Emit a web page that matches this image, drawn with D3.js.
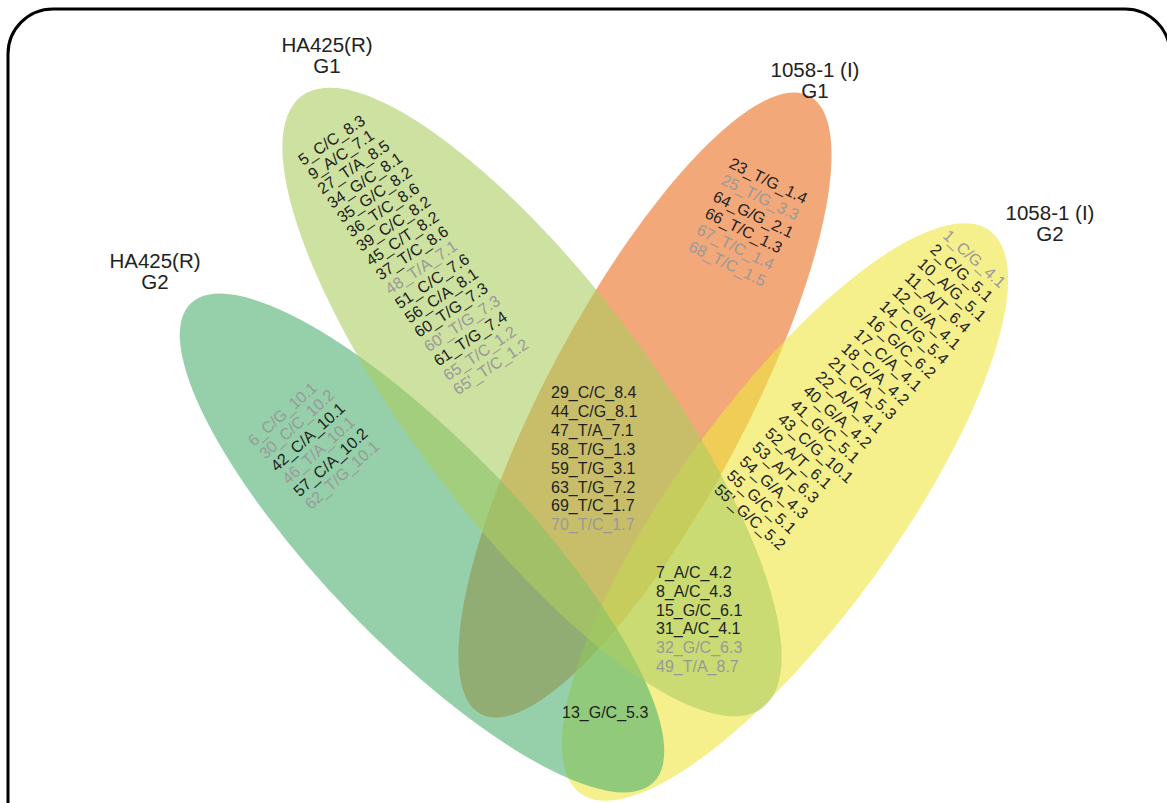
<!DOCTYPE html>
<html>
<head>
<meta charset="utf-8">
<script src="https://cdn.jsdelivr.net/npm/d3@7"></script>
<style>
  body { margin: 0; background: #fff; }
  svg { display: block; font-family: "Liberation Sans", Arial, sans-serif; }
</style>
</head>
<body>
<svg width="1167" height="803"></svg>
<script>
// set names (two lines each)
var setNames = [["HA425(R)", "G1"], ["1058-1 (I)", "G1"], ["1058-1 (I)", "G2"], ["HA425(R)", "G2"]];

// labels per region
var onlyHA_G1 = ["5_C/C_8.3", "9_A/C_7.1", "27_T/A_8.5", "34_G/C_8.1", "35_G/C_8.2", "36_T/C_8.6",
  "39_C/C_8.2", "45_C/T_8.2", "37_T/C_8.6", "48_T/A_7.1", "51_C/C_7.6", "56_C/A_8.1", "60_T/G_7.3",
  "60'_T/G_7.3", "61_T/G_7.4", "65_T/C_1.2", "65'_T/C_1.2"];
var onlyI_G1 = ["23_T/G_1.4", "25_T/G_3.3", "64_G/G_2.1", "66_T/C_1.3", "67_T/C_1.4", "68_T/C_1.5"];
var onlyI_G2 = ["1_C/G_4.1", "2_C/G_5.1", "10_A/G_5.1", "11_A/T_6.4", "12_G/A_4.1", "14_C/G_5.4",
  "16_G/C_6.2", "17_C/A_4.1", "18_C/A_4.2", "21_C/A_5.3", "22_A/A_4.1", "40_G/A_4.2", "41_G/C_5.1",
  "43_C/G_10.1", "52_A/T_6.1", "53_A/T_6.3", "54_G/A_4.3", "55_G/C_5.1", "55'_G/C_5.2"];
var onlyHA_G2 = ["6_C/G_10.1", "30_C/C_10.2", "42_C/A_10.1", "46_T/A_10.1", "57_C/A_10.2", "62_T/G_10.1"];
var G1both = ["29_C/C_8.4", "44_C/G_8.1", "47_T/A_7.1", "58_T/G_1.3", "59_T/G_3.1", "63_T/G_7.2",
  "69_T/C_1.7", "70_T/C_1.7"];
var HAG1_IG2 = ["7_A/C_4.2", "8_A/C_4.3", "15_G/C_6.1", "31_A/C_4.1", "32_G/C_6.3", "49_T/A_8.7"];
var G2both = ["13_G/C_5.3"];

// labels printed in grey
var greyLabels = ["48_T/A_7.1", "60'_T/G_7.3", "65_T/C_1.2", "65'_T/C_1.2", "25_T/G_3.3", "67_T/C_1.4",
  "68_T/C_1.5", "1_C/G_4.1", "6_C/G_10.1", "30_C/C_10.2", "46_T/A_10.1", "62_T/G_10.1", "70_T/C_1.7",
  "32_G/C_6.3", "49_T/A_8.7"];

var svg = d3.select("svg");

//==================================================
// frame
svg.append("rect")
  .attr("x", 8).attr("y", 9)
  .attr("width", 1162).attr("height", 900)
  .attr("rx", 45).attr("ry", 45)
  .attr("fill", "none").attr("stroke", "#000").attr("stroke-width", 3);

//==================================================
// ellipses (drawn order matters for the blend)
var ellipses = [
  {set: 1, cx: 645, cy: 405, rx: 350, ry: 100, angle: 118, color: "rgb(235,110,32)"},
  {set: 2, cx: 785, cy: 512, rx: 348, ry: 110, angle: 126, color: "rgb(238,230,63)"},
  {set: 3, cx: 422, cy: 543, rx: 333, ry: 100, angle: 46, color: "rgb(80,177,113)"},
  {set: 0, cx: 532, cy: 402, rx: 383, ry: 120, angle: 53, color: "rgb(172,205,97)"}
];

svg.append("g").selectAll("ellipse")
  .data(ellipses)
  .enter().append("ellipse")
  .attr("cx", 0).attr("cy", 0)
  .attr("rx", function(d) { return d.rx; })
  .attr("ry", function(d) { return d.ry; })
  .attr("transform", function(d) { return "translate(" + d.cx + "," + d.cy + ") rotate(" + d.angle + ")"; })
  .attr("fill", function(d) { return d.color; })
  .attr("fill-opacity", 0.6);

//==================================================
// titles
var titles = [
  {x: 327, y: 52, lines: setNames[0]},
  {x: 815, y: 77, lines: setNames[1]},
  {x: 1050, y: 220, lines: setNames[2]},
  {x: 155, y: 268, lines: setNames[3]}
];
titles.forEach(function(t) {
  svg.append("text")
    .attr("x", t.x).attr("y", t.y)
    .attr("text-anchor", "middle")
    .attr("font-size", 20.5).attr("fill", "#222")
    .selectAll("tspan").data(t.lines).enter().append("tspan")
    .attr("x", t.x)
    .attr("dy", function(d, i) { return i ? 21 : 0; })
    .text(function(d) { return d; });
});

//==================================================
// label blocks
var blocks = [
  {labels: onlyHA_G1, x: 303, y: 166, angle: -34, lh: 17.3, size: 16},
  {labels: onlyI_G1, x: 728, y: 167, angle: 26, lh: 18.5, size: 16},
  {labels: onlyI_G2, x: 942, y: 237, angle: 42, lh: 19, size: 16},
  {labels: onlyHA_G2, x: 254, y: 447, angle: -42, lh: 17, size: 16},
  {labels: G1both, x: 551, y: 398, angle: 0, lh: 18.9, size: 16},
  {labels: HAG1_IG2, x: 656, y: 578, angle: 0, lh: 18.8, size: 16},
  {labels: G2both, x: 562, y: 718, angle: 0, lh: 18.8, size: 16}
];

blocks.forEach(function(b) {
  var yPos = d3.scaleLinear().domain([0, 1]).range([0, b.lh]);
  svg.append("g")
    .attr("transform", "translate(" + b.x + "," + b.y + ") rotate(" + b.angle + ")")
    .selectAll("text").data(b.labels).enter().append("text")
    .attr("x", 0)
    .attr("y", function(d, i) { return yPos(i); })
    .attr("font-size", b.size)
    .attr("fill", function(d) { return greyLabels.indexOf(d) >= 0 ? "#999" : "#1e1e1e"; })
    .text(function(d) { return d; });
});
</script>
</body>
</html>
